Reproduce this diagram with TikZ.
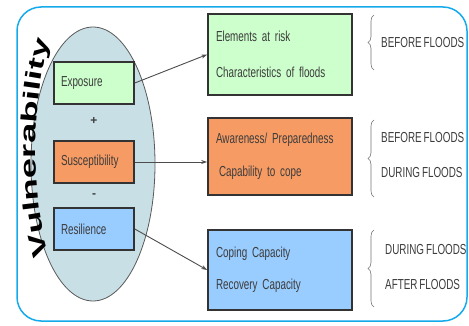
\documentclass[tikz,border=0pt]{standalone}
\usepackage{fontspec}
\setmainfont{Liberation Sans}
\newfontfamily\narrowsf[FakeStretch=0.68,WordSpace=0.7]{Liberation Sans}
\newfontfamily\widesf[FakeStretch=1.65]{Liberation Sans}
\usepackage{tikz}
\usetikzlibrary{arrows.meta,decorations.text,decorations.pathreplacing}

\definecolor{frameblue}{RGB}{20,170,235}
\definecolor{ovalfill}{RGB}{200,224,229}
\definecolor{boxgreen}{RGB}{204,255,204}
\definecolor{boxorange}{RGB}{247,155,100}
\definecolor{boxblue}{RGB}{153,204,255}
\definecolor{textgray}{RGB}{60,60,60}

\begin{document}
\begin{tikzpicture}[x=1pt,y=-1pt,
		every node/.style={font=\narrowsf\fontsize{14.5}{14.5}\selectfont,text=textgray},
		factor/.style={draw=black!80,line width=1.6pt,minimum width=80pt,minimum height=42pt,
			inner xsep=7pt,text width=66pt,align=left},
		detail/.style={draw=black!80,line width=1.6pt,minimum width=144pt,
			inner xsep=8pt,text width=128pt,align=left},
		phasetext/.style={anchor=west,inner sep=0pt},
		link/.style={draw=black!70,line width=0.9pt,-{Stealth[length=6pt,width=4pt]}},
		phase/.style={decorate,decoration={brace,amplitude=6pt},draw=black!55,line width=0.6pt}]
		\useasboundingbox (0,0) rectangle (469,326);
		
		\draw[frameblue,line width=1.5pt,rounded corners=24pt] (17,7) rectangle (467,321);
		
		% oval with the three factors
		\draw[black!65,fill=ovalfill,line width=0.8pt] (93,164) ellipse [x radius=62pt,y radius=137pt];
		\path[decorate,decoration={text along path,text align=center,text color=black,
			text={|\widesf\bfseries\fontsize{22}{22}\selectfont|Vulnerability}}]
			(50,258) .. controls (31,200) and (31,100) .. (51,38);
		
		\node[factor,fill=boxgreen] (expo) at (94,83) {Exposure};
		\node[font=\bfseries\fontsize{12}{12}\selectfont] (plus) at (94,121) {+};
		\node[factor,fill=boxorange] (susc) at (94,162) {Susceptibility};
		\node[font=\bfseries\fontsize{12}{12}\selectfont] (minus) at (94,196) {-};
		\node[factor,fill=boxblue] (resil) at (94,229) {Resilience};
		
		% what each factor stands for
		\node[detail,fill=boxgreen,minimum height=81pt] (elem) at (280,54.5)
			{Elements at risk\\[22pt]Characteristics of floods};
		\node[detail,fill=boxorange,minimum height=77pt] (aware) at (280,156.5)
			{Awareness/ Preparedness\\[19pt]\hspace{3pt}Capability to cope};
		\node[detail,fill=boxblue,minimum height=80pt] (cope) at (280,270)
			{Coping Capacity\\[18pt]Recovery Capacity};
		
		\draw[link] (expo.east) -- (elem.west);
		\draw[link] (susc.east) -- (susc.east -| aware.west);
		\draw[link] (resil.east) -- (cope.west);
		
		% flood phases
		\draw[phase] (374,70) -- (374,15);
		\draw[phase] (374,197) -- (374,120);
		\draw[phase] (374,307) -- (374,230);
		\node[phasetext] (b1) at (381,43) {BEFORE FLOODS};
		\node[phasetext] (b2) at (381,138) {BEFORE FLOODS};
		\node[phasetext] (d2) at (381,173) {DURING FLOODS};
		\node[phasetext] (d3) at (385,250) {DURING FLOODS};
		\node[phasetext] (a3) at (385,285) {AFTER FLOODS};
	\end{tikzpicture}
\end{document}
